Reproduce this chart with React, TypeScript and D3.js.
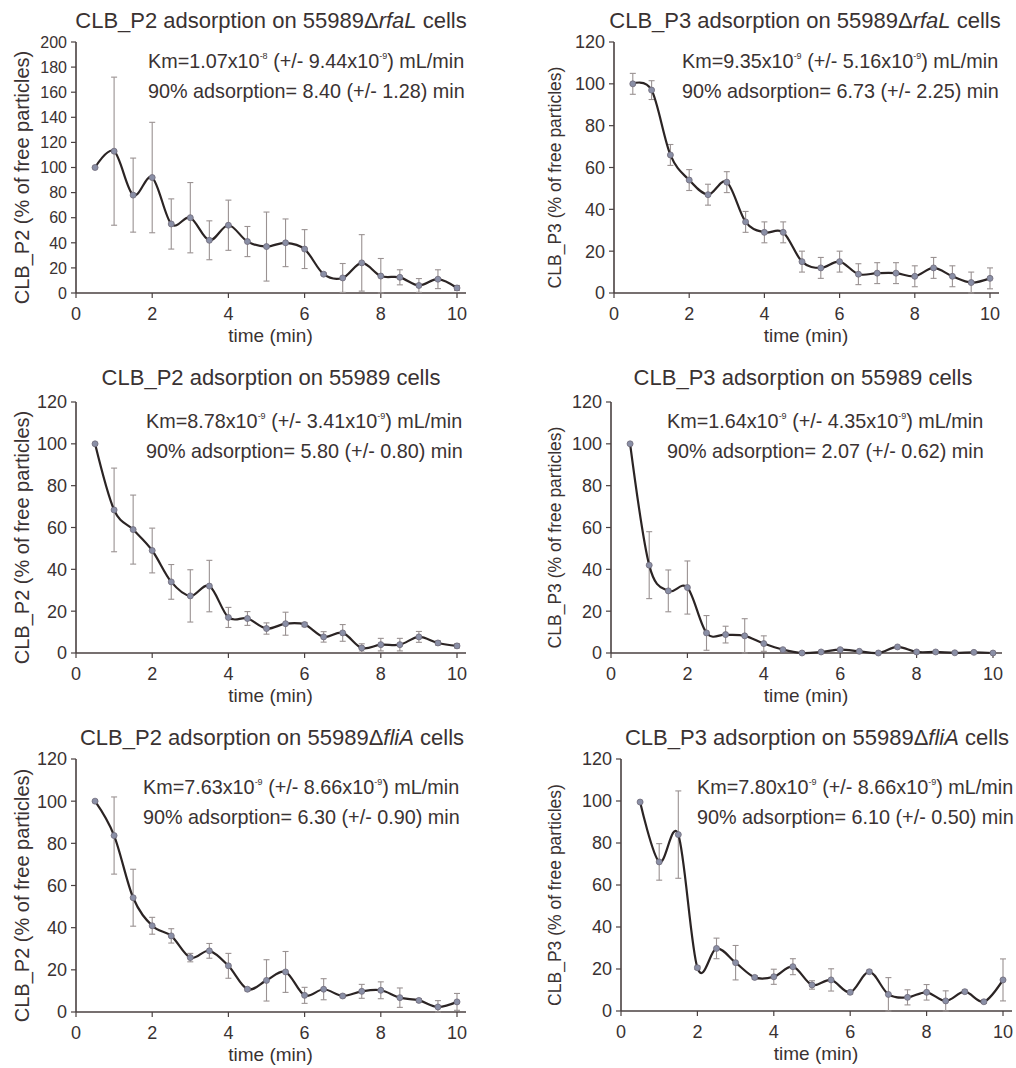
import React from "react";
import * as d3 from "d3";

// ---- data ----
const times = [0.5, 1, 1.5, 2, 2.5, 3, 3.5, 4, 4.5, 5, 5.5, 6, 6.5, 7, 7.5, 8, 8.5, 9, 9.5, 10];

const p2RfaL = [100, 113, 78, 92, 55, 60, 42, 54, 41, 37, 40, 35, 15, 12, 24, 13.5, 12.5, 6, 11, 4];
const p2RfaLErr = [0, 59, 29.5, 44, 20, 28, 15.5, 20, 12, 27.5, 19, 15.5, 1, 11.5, 22.5, 14, 6, 5.5, 7.5, 2];

const p3RfaL = [100, 97, 66, 54, 47, 53, 34, 29, 29, 15, 12, 15, 9, 9.5, 9.5, 8, 12, 8, 5, 7];
const p3RfaLErr = [5, 4.5, 5, 5, 5, 5, 5, 5, 5, 5, 5, 5, 5, 5, 5, 5, 5, 5, 5, 5];

const p2Wt = [100, 68.4, 59, 49, 34, 27.3, 32, 17, 16.5, 11.7, 14, 13.6, 7.7, 9.6, 2.4, 4, 4, 7.7, 4.8, 3.4];
const p2WtErr = [0, 20, 16.5, 10.7, 8.3, 12.5, 12.3, 4.8, 3.3, 2.7, 5.5, 1, 2.5, 4, 2, 3, 3, 2.6, 1, 1];

const p3Wt = [100, 42, 29.7, 31.3, 9.6, 8.8, 8.2, 4.5, 1.6, 0, 0.5, 1.6, 0.8, 0, 2.9, 0.5, 0.5, 0.1, 0.3, 0];
const p3WtErr = [0, 16, 10, 12.7, 8.3, 4, 8.2, 3.7, 0.5, 0, 0.3, 0.5, 0.3, 0, 0.3, 0, 0, 0, 0, 0];

const p2FliA = [100, 83.7, 54.2, 40.9, 36.1, 25.8, 29, 21.9, 10.8, 15, 19, 7.9, 10.8, 7.6, 9.8, 10.3, 6.8, 5.5, 2.4, 4.8];
const p2FliAErr = [0, 18.3, 13.5, 4, 3.4, 2, 3.5, 5.9, 0.8, 9.8, 9.7, 3.8, 5, 0.8, 3.3, 4, 4.6, 0.8, 3, 4];

const p3FliA = [99.5, 71, 84, 20.6, 29.8, 23, 16, 16.3, 21.1, 12.4, 14.8, 8.9, 18.7, 7.9, 6.5, 8.9, 4.8, 9.2, 4.4, 14.8];
const p3FliAErr = [0, 8.7, 20.8, 0.8, 4.9, 8.2, 0.8, 3.6, 3.8, 2, 5.3, 0.8, 0.8, 8, 3.6, 3.7, 4.8, 0.8, 0.8, 10];

const xTicks = [0, 2, 4, 6, 8, 10];
const yTicks200 = [0, 20, 40, 60, 80, 100, 120, 140, 160, 180, 200];
const yTicks120 = [0, 20, 40, 60, 80, 100, 120];

const phages = ["CLB_P2", "CLB_P3", "CLB_P2", "CLB_P3", "CLB_P2", "CLB_P3"];
const strains = ["rfaL", "rfaL", "", "", "fliA", "fliA"];
const kmVals = ["1.07", "9.35", "8.78", "1.64", "7.63", "7.80"];
const kmExps = ["-8", "-9", "-9", "-9", "-9", "-9"];
const kmErrs = ["9.44", "5.16", "3.41", "4.35", "8.66", "8.66"];
const kmErrExps = ["-9", "-9", "-9", "-9", "-9", "-9"];
const t90s = ["8.40", "6.73", "5.80", "2.07", "6.30", "6.10"];
const t90Errs = ["1.28", "2.25", "0.80", "0.62", "0.90", "0.50"];

const seriesList = [p2RfaL, p3RfaL, p2Wt, p3Wt, p2FliA, p3FliA];
const errList = [p2RfaLErr, p3RfaLErr, p2WtErr, p3WtErr, p2FliAErr, p3FliAErr];
const yMaxes = [200, 120, 120, 120, 120, 120];
const yTickList = [yTicks200, yTicks120, yTicks120, yTicks120, yTicks120, yTicks120];

// ---- layout (pixel positions) ----
const layouts = [
  { x0: 76, x10: 457, y0: 293, yTop: 42, titleX: 271, titleY: 28, annX: 148, annY: 68, ylabX: 29, ylabFs: 20, ytFs: 16 },
  { x0: 614, x10: 990, y0: 293, yTop: 42, titleX: 805, titleY: 28, annX: 682, annY: 68, ylabX: 561, ylabFs: 17.5, ytFs: 18 },
  { x0: 76, x10: 457, y0: 653, yTop: 402, titleX: 271, titleY: 385, annX: 146, annY: 428, ylabX: 29, ylabFs: 20, ytFs: 18 },
  { x0: 611, x10: 993, y0: 653, yTop: 402, titleX: 803, titleY: 385, annX: 667, annY: 428, ylabX: 561, ylabFs: 17.5, ytFs: 18 },
  { x0: 76, x10: 457, y0: 1012, yTop: 759, titleX: 272, titleY: 745, annX: 143, annY: 794, ylabX: 29, ylabFs: 20, ytFs: 18 },
  { x0: 621, x10: 1003, y0: 1011, yTop: 759, titleX: 817, titleY: 745, annX: 697, annY: 794, ylabX: 561, ylabFs: 17.5, ytFs: 18 },
];

const TEXT = "#3a3232";
const AXIS = "#4a4141";
const FONT = "'Liberation Sans', Arial, sans-serif";

function Panel({ i }: { i: number }) {
  const L = layouts[i];
  const values = seriesList[i];
  const errs = errList[i];
  const x = d3.scaleLinear().domain([0, 10]).range([L.x0, L.x10]);
  const y = d3.scaleLinear().domain([0, yMaxes[i]]).range([L.y0, L.yTop]);
  const pts: [number, number][] = times.map((t, k) => [t, values[k]]);
  const line = d3
    .line<[number, number]>()
    .x((d) => x(d[0]))
    .y((d) => y(d[1]))
    .curve(d3.curveCardinal.tension(0));
  const path = line(pts) || "";
  const ylab = `${phages[i]} (% of free particles)`;
  const midY = (L.y0 + L.yTop) / 2 + 10;
  const ticksY = yTickList[i];
  return (
    <g fontFamily={FONT} fill={TEXT}>
      {/* title */}
      <text x={L.titleX} y={L.titleY} textAnchor="middle" fontSize={22}>
        {`${phages[i]} adsorption on 55989`}
        {strains[i] ? (
          <tspan>
            {"\u0394"}
            <tspan fontStyle="italic">{strains[i]}</tspan>
          </tspan>
        ) : null}
        {" cells"}
      </text>
      {/* annotation */}
      <text x={L.annX} y={L.annY} fontSize={19.8}>
        {`Km=${kmVals[i]}x10`}
        <tspan dy={-9} fontSize={9}>{kmExps[i]}</tspan>
        <tspan dy={9}>{` (+/- ${kmErrs[i]}x10`}</tspan>
        <tspan dy={-9} fontSize={9}>{kmErrExps[i]}</tspan>
        <tspan dy={9}>{") mL/min"}</tspan>
      </text>
      <text x={L.annX} y={L.annY + 30} fontSize={19.8}>
        {`90% adsorption= ${t90s[i]} (+/- ${t90Errs[i]}) min`}
      </text>
      {/* y label */}
      <text
        transform={`translate(${L.ylabX},${midY}) rotate(-90)`}
        textAnchor="middle"
        fontSize={L.ylabFs}
      >
        {ylab}
      </text>
      {/* x label */}
      <text x={(L.x0 + L.x10) / 2 + 4} y={L.y0 + 49} textAnchor="middle" fontSize={19}>
        time (min)
      </text>
      {/* axes */}
      <line x1={L.x0} x2={L.x0} y1={L.yTop} y2={L.y0} stroke={AXIS} strokeWidth={1.6} />
      <line x1={L.x0} x2={L.x10 + 9} y1={L.y0} y2={L.y0} stroke={AXIS} strokeWidth={1.6} />
      {ticksY.map((t) => (
        <g key={"y" + t}>
          <line x1={L.x0 - 5} x2={L.x0} y1={y(t)} y2={y(t)} stroke={AXIS} strokeWidth={1.2} />
          <text x={L.x0 - 9} y={y(t) + L.ytFs * 0.36} textAnchor="end" fontSize={L.ytFs}>
            {t}
          </text>
        </g>
      ))}
      {xTicks.map((t) => (
        <g key={"x" + t}>
          <line x1={x(t)} x2={x(t)} y1={L.y0} y2={L.y0 + 5} stroke={AXIS} strokeWidth={1.2} />
          <text x={x(t)} y={L.y0 + 27} textAnchor="middle" fontSize={18}>
            {t}
          </text>
        </g>
      ))}
      {/* error bars */}
      {times.map((t, k) => {
        const e = errs[k];
        if (!e) return null;
        const top = y(values[k] + e);
        const bot = y(Math.max(0, values[k] - e));
        const cx = x(t);
        return (
          <g key={"e" + k} stroke="#9a9292" strokeWidth={1.1}>
            <line x1={cx} x2={cx} y1={top} y2={bot} />
            <line x1={cx - 3} x2={cx + 3} y1={top} y2={top} />
            <line x1={cx - 3} x2={cx + 3} y1={bot} y2={bot} />
          </g>
        );
      })}
      {/* line */}
      <path d={path} fill="none" stroke="#2b2424" strokeWidth={2.2} />
      {/* markers */}
      {times.map((t, k) => (
        <circle
          key={"m" + k}
          cx={x(t)}
          cy={y(values[k])}
          r={3}
          fill="#8a8fa6"
          stroke="#6e6a78"
          strokeWidth={0.8}
        />
      ))}
    </g>
  );
}

export default function App() {
  return (
    <div style={{ position: "absolute", left: 0, top: 0 }}>
      <svg width={1016} height={1068} style={{ display: "block", background: "#fff" }}>
        <rect width={1016} height={1068} fill="#fff" />
        {[0, 1, 2, 3, 4, 5].map((i) => (
          <Panel key={i} i={i} />
        ))}
      </svg>
    </div>
  );
}
